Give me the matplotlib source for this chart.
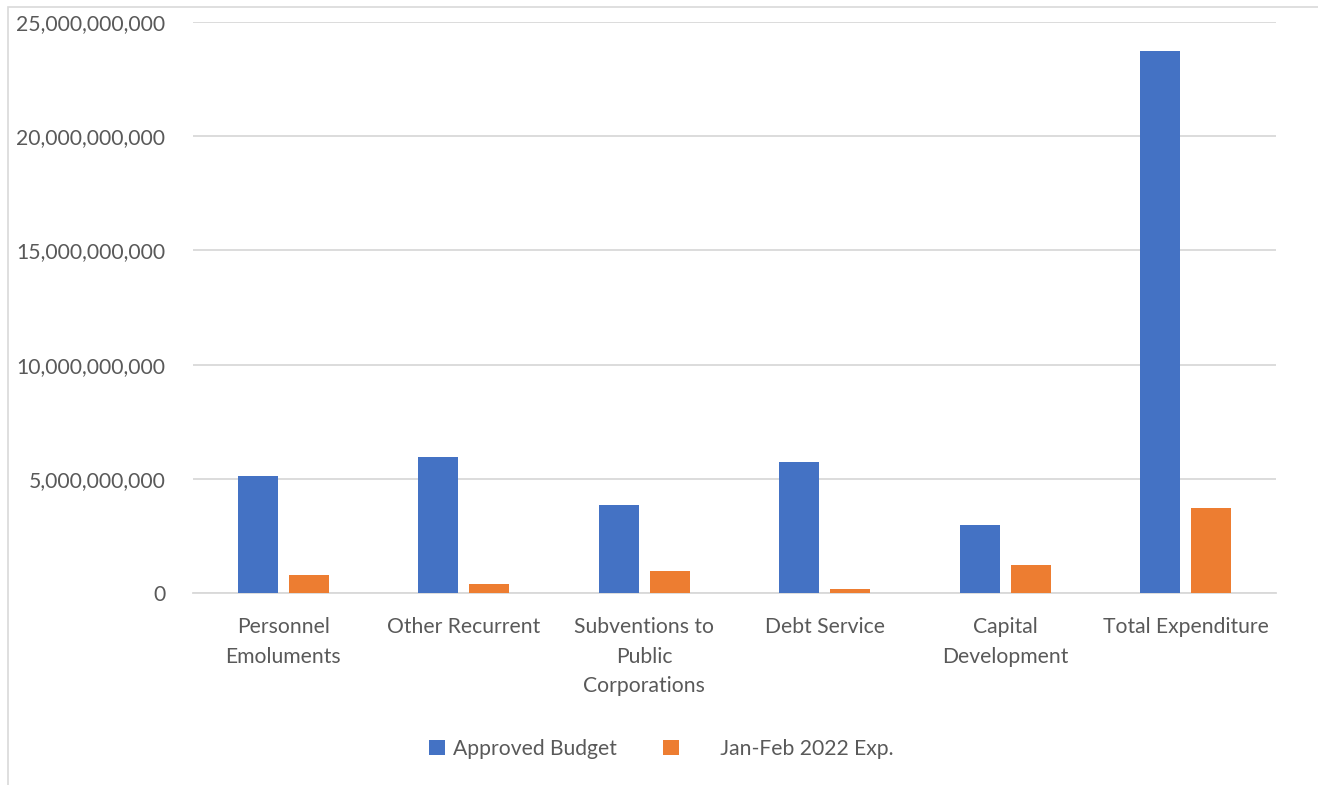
import matplotlib.pyplot as plt
import matplotlib.ticker as mticker
from matplotlib import patches
import numpy as np

CATEGORIES = ["Personnel\nEmoluments", "Other Recurrent", "Subventions to\nPublic\nCorporations",
              "Debt Service", "Capital\nDevelopment", "Total Expenditure"]
APPROVED = [5.13e9, 5.97e9, 3.86e9, 5.75e9, 2.98e9, 23.72e9]
JAN_FEB = [0.79e9, 0.41e9, 0.98e9, 0.19e9, 1.21e9, 3.70e9]
SERIES_NAMES = ["Approved Budget", "      Jan-Feb 2022 Exp."]

BLUE = "#4472c4"
ORANGE = "#ed7d31"
GRID = "#d9d9d9"
TEXT = "#595959"

plt.rcParams["font.family"] = ["Lato", "DejaVu Sans"]

fig = plt.figure(figsize=(13.18, 7.85), dpi=100, facecolor="white")
ax = fig.add_axes([193 / 1318, 1 - 593 / 785, (1276 - 193) / 1318, (593 - 22) / 785])

# chart border (light grey frame of the original chart object)
fig.patches.append(patches.Rectangle((8 / 1318, -0.01), 1.2, 1 - 7 / 785 + 0.01,
                                     transform=fig.transFigure, fill=False,
                                     edgecolor="#d9d9d9", linewidth=1.2))

x = np.arange(len(CATEGORIES))
w = 0.222
off = 0.141
ax.bar(x - off, APPROVED, w, color=BLUE, label=SERIES_NAMES[0], zorder=3)
ax.bar(x + off, JAN_FEB, w, color=ORANGE, label=SERIES_NAMES[1], zorder=3)

ax.set_xlim(-0.5, len(CATEGORIES) - 0.5)
ax.set_ylim(0, 25e9)
ax.yaxis.set_major_locator(mticker.MultipleLocator(5e9))
ax.yaxis.set_major_formatter(mticker.FuncFormatter(lambda v, p: f"{v:,.0f}"))
ax.grid(axis="y", color=GRID, linewidth=1.3, zorder=0)
for s in ["top", "right", "left"]:
    ax.spines[s].set_visible(False)
ax.spines["bottom"].set_color(GRID)
ax.spines["bottom"].set_linewidth(1.3)
ax.set_xticks(x)
ax.set_xticklabels(CATEGORIES, linespacing=1.58)
ax.tick_params(axis="both", length=0, labelsize=15.2, colors=TEXT)
ax.tick_params(axis="y", pad=20)
ax.tick_params(axis="x", pad=17.5)

fig.legend(loc="center", bbox_to_anchor=(661 / 1318, 1 - 749 / 785), ncol=2, frameon=False,
           fontsize=15.2, labelcolor=TEXT, handlelength=0.75, handleheight=0.75,
           handletextpad=0.4, columnspacing=2.2)

fig.savefig("out.png", dpi=100, facecolor="white")
